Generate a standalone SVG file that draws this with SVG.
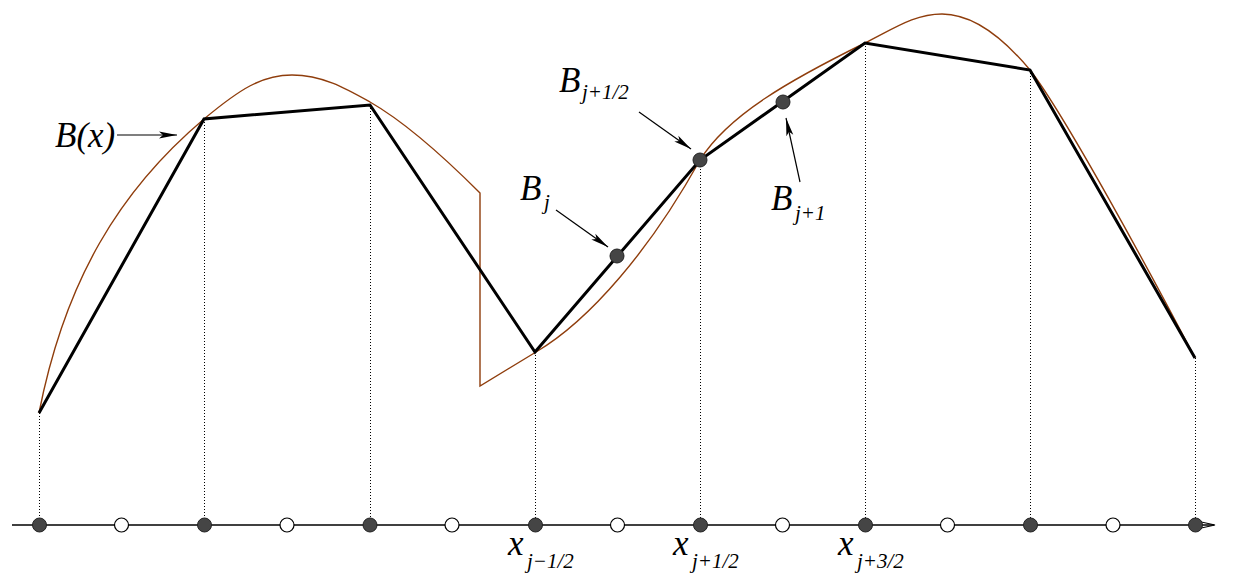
<svg xmlns="http://www.w3.org/2000/svg" width="1234" height="585" viewBox="0 0 1234 585">
<style>
.dot{stroke:#000;stroke-width:1;stroke-dasharray:1 2;fill:none}
.poly{stroke:#000;stroke-width:3;fill:none;stroke-linejoin:miter}
.curve{stroke:#8f3d0c;stroke-width:1.4;fill:none}
.full{fill:#454545;stroke:#222;stroke-width:1}
.open{fill:#fff;stroke:#000;stroke-width:1.2}
.lbl{font-family:"Liberation Serif","Times New Roman",serif;font-style:italic;fill:#000}
.big{font-size:35px}
.sub{font-size:21px}
.arr{stroke:#000;stroke-width:1.2;fill:none}
</style>
<defs>
<marker id="ah" markerWidth="20" markerHeight="10" refX="18" refY="5" orient="auto" markerUnits="userSpaceOnUse">
<path d="M0,1.5 L18,5 L0,8.5 L4,5 Z" fill="#000"/>
</marker>
</defs>
<g id="guides">
<line class="dot" x1="39.5" y1="413" x2="39.5" y2="524"/>
<line class="dot" x1="204.5" y1="119" x2="204.5" y2="524"/>
<line class="dot" x1="370.5" y1="105" x2="370.5" y2="524"/>
<line class="dot" x1="535.5" y1="352" x2="535.5" y2="524"/>
<line class="dot" x1="700.5" y1="160" x2="700.5" y2="524"/>
<line class="dot" x1="865.5" y1="43" x2="865.5" y2="524"/>
<line class="dot" x1="1030.5" y1="70" x2="1030.5" y2="524"/>
<line class="dot" x1="1195.5" y1="358" x2="1195.5" y2="524"/>
</g>
<g id="axis">
<line x1="12" y1="525" x2="1214" y2="525" stroke="#000" stroke-width="1.3"/>
<path d="M1199,521.5 L1215,525 L1199,528.5" fill="none" stroke="#000" stroke-width="1.1"/>
<circle class="open" cx="121.5" cy="525" r="7"/>
<circle class="open" cx="287" cy="525" r="7"/>
<circle class="open" cx="452" cy="525" r="7"/>
<circle class="open" cx="617.5" cy="525" r="7"/>
<circle class="open" cx="782.5" cy="525" r="7"/>
<circle class="open" cx="947.5" cy="525" r="7"/>
<circle class="open" cx="1113" cy="525" r="7"/>
<circle class="full" cx="39.5" cy="525" r="7"/>
<circle class="full" cx="204.5" cy="525" r="7"/>
<circle class="full" cx="370" cy="525" r="7"/>
<circle class="full" cx="535.5" cy="525" r="7"/>
<circle class="full" cx="700.5" cy="525" r="7"/>
<circle class="full" cx="865.5" cy="525" r="7"/>
<circle class="full" cx="1030.5" cy="525" r="7"/>
<circle class="full" cx="1195.5" cy="525" r="7"/>
</g>
<g id="curve">
<path class="curve" d="M39,413 C65,280 120,190 204,119 C240,89 262,75 292,75 C322,75 345,88 370,102 C405,122 450,163 480,193 L480,386 L536,352 C590,320 650,250 700,160 C728,115 790,80 865,43 C895,28 915,14 942,14 C975,14 1005,40 1030,70 C1065,115 1150,272 1195,358"/>
</g>
<g id="reconstruction">
<polyline class="poly" points="39,413 204,119 370,105 535,352 700,160 865,43 1030,70 1195,358"/>
</g>
<g id="points">
<circle class="full" cx="617" cy="256" r="7"/>
<circle class="full" cx="700" cy="160" r="7"/>
<circle class="full" cx="783" cy="102" r="7"/>
</g>
<g id="connectors">
<line class="arr" x1="117" y1="135" x2="177" y2="135" marker-end="url(#ah)"/>
<line class="arr" x1="556" y1="210" x2="608" y2="247" marker-end="url(#ah)"/>
<line class="arr" x1="639" y1="112" x2="691" y2="149" marker-end="url(#ah)"/>
<line class="arr" x1="800" y1="182" x2="786" y2="118" marker-end="url(#ah)"/>
</g>
<g id="label-Bx">
<text class="lbl big" x="55" y="147">B(x)</text>
</g>
<g id="label-Bj">
<text class="lbl big" x="520" y="200">B</text>
<text class="lbl sub" x="544" y="209">j</text>
</g>
<g id="label-Bj12">
<text class="lbl big" x="559" y="92">B</text>
<text class="lbl sub" x="582" y="99">j+1/2</text>
</g>
<g id="label-Bj1">
<text class="lbl big" x="771" y="210">B</text>
<text class="lbl sub" x="795" y="220">j+1</text>
</g>
<g id="label-x1">
<text class="lbl big" x="508" y="555">x</text>
<text class="lbl sub" x="527" y="568">j−1/2</text>
</g>
<g id="label-x2">
<text class="lbl big" x="673" y="555">x</text>
<text class="lbl sub" x="692" y="568">j+1/2</text>
</g>
<g id="label-x3">
<text class="lbl big" x="838" y="555">x</text>
<text class="lbl sub" x="857" y="568">j+3/2</text>
</g>
</svg>
